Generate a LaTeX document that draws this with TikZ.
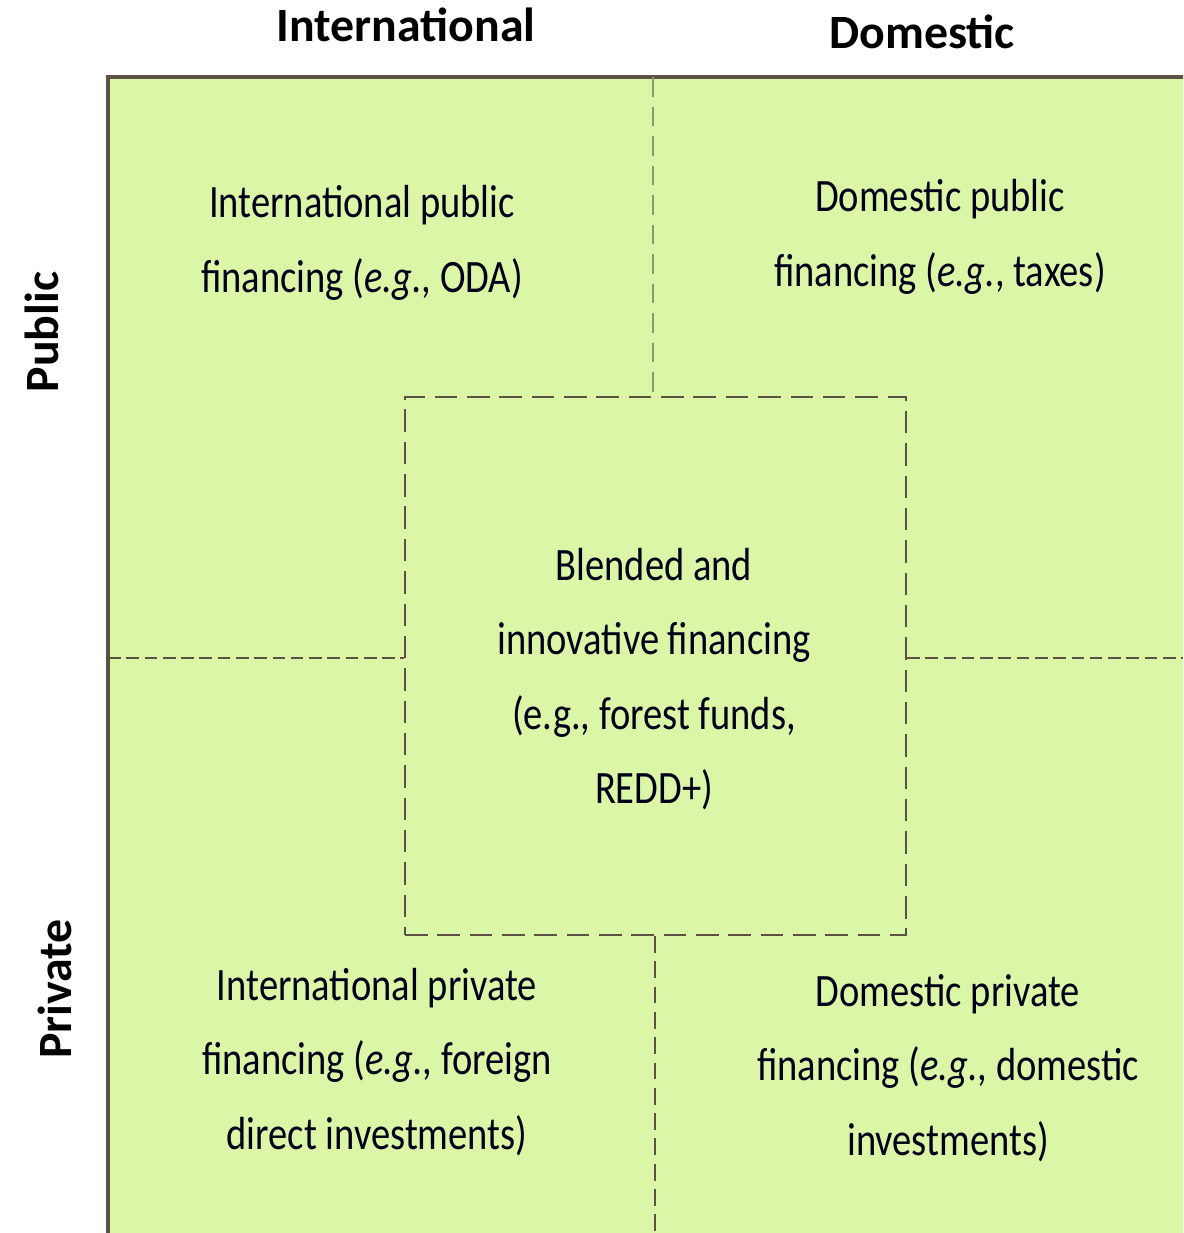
\documentclass[tikz,border=0pt]{standalone}
\usepackage{fontspec}
\setmainfont{Carlito}
\newfontfamily\bodyfont[FakeStretch=0.83]{Carlito}
\usetikzlibrary{positioning}

\definecolor{cellgreen}{RGB}{218,246,166}
\definecolor{edgegray}{RGB}{92,82,68}
\definecolor{lightdash}{RGB}{140,150,112}

\tikzset{
  header/.style={font=\fontsize{34}{40}\selectfont\bfseries, text=black},
  cell/.style={font=\bodyfont\fontsize{33}{53}\selectfont, align=center, text=black!90!blue},
  dashline/.style={draw=edgegray, line width=1.4pt, dash pattern=on 9pt off 4pt},
  boxdash/.style={draw=edgegray, line width=1.4pt, dash pattern=on 16pt off 7pt}
}

\begin{document}
\begin{tikzpicture}[x=0.025cm, y=-0.025cm]
    \useasboundingbox (0,0) rectangle (1183,1233);
    \clip (0,0) rectangle (1183,1233);

    \fill[cellgreen] (108,77) rectangle (1200,1250);
    \draw[edgegray, line width=2.2pt] (108,1250) -- (108,77) -- (1200,77);

    \node (blend) [boxdash, minimum width=501*0.025cm, minimum height=538*0.025cm] at (655.5,666) {};

    \coordinate (top) at (653,77);
    \coordinate (bot) at (655,1233);
    \coordinate (lft) at (108,658);
    \coordinate (rgt) at (1183,658);

    \draw[draw=lightdash, line width=1.4pt, dash pattern=on 14pt off 7pt] (top) -- (top |- blend.north);
    \draw[boxdash, dash pattern=on 12pt off 6pt] (bot |- blend.south) -- (bot);
    \draw[dashline] (lft) -- (lft -| blend.west);
    \draw[dashline] (blend.east |- rgt) -- (rgt);

    \node (intl) [header] at (406,25) {International};
    \node (dom) [header] at (922,32) {Domestic};
    \node (pub) [header, rotate=90] at (42,332) {Public};
    \node (priv) [header, rotate=90] at (55,989) {Private};

    \node (intpub) [cell] at (362,243) {International public\\financing (\textit{e.g.}, ODA)};
    \node (dompub) [cell] at (940,237) {Domestic public\\financing (\textit{e.g.}, taxes)};
    \node (blendtxt) [cell] at (654,679) {Blended and\\innovative financing\\(e.g., forest funds,\\REDD+)};
    \node (intpriv) [cell] at (377,1062) {International private\\financing (\textit{e.g.}, foreign\\direct investments)};
    \node (dompriv) [cell] at (948,1068) {Domestic private\\financing (\textit{e.g.}, domestic\\investments)};
\end{tikzpicture}
\end{document}
